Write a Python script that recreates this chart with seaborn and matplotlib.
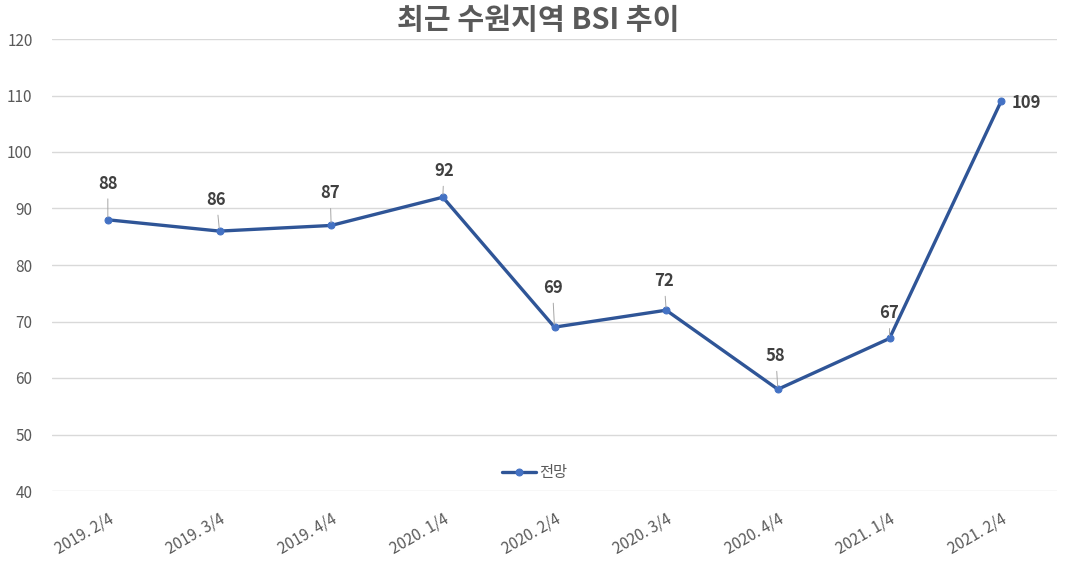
import matplotlib
matplotlib.use("Agg")
import matplotlib.pyplot as plt
import seaborn as sns
import pandas as pd

categories = ["2019. 2/4", "2019. 3/4", "2019. 4/4", "2020. 1/4", "2020. 2/4",
              "2020. 3/4", "2020. 4/4", "2021. 1/4", "2021. 2/4"]
values = [88, 86, 87, 92, 69, 72, 58, 67, 109]
series_name = "전망"
title = "최근 수원지역 BSI 추이"
yticks = [40, 50, 60, 70, 80, 90, 100, 110, 120]

# label offsets in pixels (dx, dy) relative to the point
label_offsets = [(0, 36), (-3, 31), (-1, 32), (1, 26), (-2, 39), (-2, 29), (-2, 33), (0, 25), (25, -2)]

sns.set_theme(style="white")
plt.rcParams['font.family'] = ['Noto Sans CJK KR', 'DejaVu Sans']

df = pd.DataFrame({"cat": categories, "val": values, "series": series_name})

fig = plt.figure(figsize=(10.77, 5.69), dpi=100)
ax = fig.add_axes([52/1077, 1-491/569, 1005/1077, 452/569])

ax.set_xlim(-0.5, len(categories) - 0.5)
ax.set_ylim(40, 120)
ax.set_yticks(yticks)
for y in yticks:
    ax.axhline(y, color="#D9D9D9", lw=1.0, zorder=0)

sns.lineplot(data=df, x="cat", y="val", hue="series", palette=["#2F5597"], ax=ax,
             lw=2.4, marker="o", markersize=5, markerfacecolor="#4472C4",
             markeredgecolor="#4472C4", sort=False, zorder=3)

for i, (v, (dx, dy)) in enumerate(zip(values, label_offsets)):
    kw = dict(xy=(i, v), xytext=(dx, dy), textcoords="offset pixels",
              ha="center", va="center", fontsize=12, fontweight="bold", color="#404040", zorder=4)
    if dy > 0:
        kw["arrowprops"] = dict(arrowstyle="-", color="#A6A6A6", lw=0.7, shrinkA=2, shrinkB=2)
    ax.annotate(str(v), **kw)

for s in ax.spines.values():
    s.set_visible(False)
ax.set_xlabel("")
ax.set_ylabel("")
ax.tick_params(axis="both", length=0, colors="#595959", labelsize=11)
ax.tick_params(axis="y", pad=14)
ax.set_xticks(range(len(categories)))
ax.set_xticklabels(categories, rotation=30, ha="right", rotation_mode="anchor")
ax.tick_params(axis="x", pad=14)

leg = ax.legend(loc="center", bbox_to_anchor=(0.48, 0.04), frameon=False,
                fontsize=11, handlelength=2.2, handletextpad=0.2)
for t in leg.get_texts():
    t.set_color("#595959")

fig.text(0.5, 1-20/569, title, ha="center", va="center", fontsize=21,
         fontweight="bold", color="#595959")

fig.savefig("out.png", dpi=100)
